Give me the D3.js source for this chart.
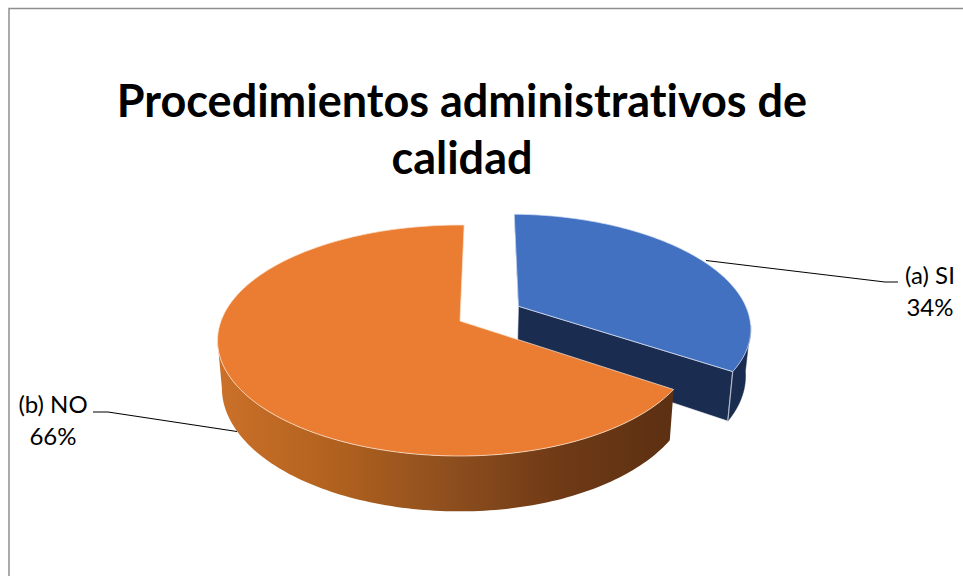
<!DOCTYPE html>
<html lang="es">
<head>
<meta charset="utf-8">
<script src="https://cdn.jsdelivr.net/npm/d3@7"></script>
<style>
  html, body { margin: 0; padding: 0; background: #fff; }
  svg { display: block; }
  text { font-family: Lato, "Open Sans", sans-serif; fill: #000; font-variant-ligatures: none; }
</style>
</head>
<body>
<script>
// Chart content
const titleLines = ["Procedimientos administrativos de", "calidad"];
const categories = ["(a) SI", "(b) NO"];
const shares = [34, 66];

// Tilted disc: perspective strength, rotation and slice separation
const W = 963, H = 576;
const perspective = 0.169;
const rotation = 1.2 * Math.PI / 180;
const explode = [0.29, 0];
const depth = 46;
const baseShrink = 0.018;

const xScale = d3.scaleLinear().domain([-1, 0, 1]).range([460 - 239, 460, 460 + 232.5]);
const yScale = d3.scaleLinear().domain([-1, 1]).range([321 - 112.2, 321 + 112.2]);

// Maps a disc point (X to the right, Y toward the viewer) at height z (0 top, 1 base) to the page
function project(X, Y, z) {
  const s = 1 / (1 - perspective * Y);
  const px = xScale(0) + (xScale(X) - xScale(0)) * s * (1 - baseShrink * z);
  const py = yScale(0) + (yScale(Y) - yScale(0)) * s + depth * z * s;
  return [px, py];
}

const pieLayout = d3.pie().sort(null).startAngle(rotation).endAngle(rotation + 2 * Math.PI);
const slices = pieLayout(shares).map((d, i) => {
  const mid = (d.startAngle + d.endAngle) / 2;
  return { ...d, ox: Math.sin(mid) * explode[i], oy: -Math.cos(mid) * explode[i] };
});

const rimPoint = (sl, a, z) => project(sl.ox + Math.sin(a), sl.oy - Math.cos(a), z);
const apexPoint = (sl, z) => project(sl.ox, sl.oy, z);
const rim = (sl, a0, a1, z) => d3.range(0, 121).map(k => rimPoint(sl, a0 + (a1 - a0) * k / 120, z));
const path = d3.line();

// Rim angles where the disc outline is widest; the side walls start from there
const silhouetteRight = Math.PI / 2 + 0.17;
const silhouetteLeft = 3 * Math.PI / 2 - 0.17;

const svg = d3.select("body").append("svg").attr("width", W).attr("height", H);
const defs = svg.append("defs");

const grad = defs.append("linearGradient").attr("id", "orangeWall")
  .attr("gradientUnits", "userSpaceOnUse")
  .attr("x1", 218).attr("x2", 673).attr("y1", 0).attr("y2", 0);
[[0, "#cb7029"], [0.25, "#b2621f"], [0.5, "#8f4f1e"], [0.75, "#6f3a16"], [1, "#5c3012"]]
  .forEach(([o, c]) => grad.append("stop").attr("offset", o).attr("stop-color", c));

// Chart frame, running off the right and bottom of the page
svg.append("path")
  .attr("d", path([[9, H], [9, 8.5], [W, 8.5]]))
  .attr("fill", "none").attr("stroke", "#8e8e8e").attr("stroke-width", 1.5);

// Title
svg.append("g").selectAll("text").data(titleLines).join("text")
  .attr("x", 462).attr("y", (d, i) => 117 + i * 57)
  .attr("text-anchor", "middle")
  .attr("font-size", 45).attr("font-weight", 700)
  .text(d => d);

const edge = "rgba(235,235,245,0.65)";

// Blue slice: walls, then top face
const si = slices[0];
const a1 = si.endAngle;
svg.append("path")
  .attr("d", path([apexPoint(si, 0), rimPoint(si, si.startAngle, 0), rimPoint(si, si.startAngle, 0.05), apexPoint(si, 0.05)]) + "Z")
  .attr("fill", "#1a2c50");
svg.append("path")
  .attr("d", path([apexPoint(si, 0), rimPoint(si, a1, 0), rimPoint(si, a1, 1), apexPoint(si, 1)]) + "Z")
  .attr("fill", "#1a2c50").attr("stroke", edge).attr("stroke-width", 1);
svg.append("path")
  .attr("d", path([...rim(si, silhouetteRight, a1, 0), ...rim(si, silhouetteRight, a1, 1).reverse()]) + "Z")
  .attr("fill", "#1a2c50").attr("stroke", "#1a2c50").attr("stroke-width", 0.5);
svg.append("path")
  .attr("d", path([rimPoint(si, a1, 0), rimPoint(si, a1, 1)]))
  .attr("stroke", edge).attr("stroke-width", 1.2);
svg.append("path")
  .attr("d", path([apexPoint(si, 0), ...rim(si, si.startAngle, a1, 0)]) + "Z")
  .attr("fill", "#4271c2").attr("stroke", "rgba(215,225,245,0.7)").attr("stroke-width", 1);

// Orange slice: curved wall, then top face
const no = slices[1];
svg.append("path")
  .attr("d", path([...rim(no, no.startAngle, silhouetteLeft, 0), ...rim(no, no.startAngle, silhouetteLeft, 1).reverse()]) + "Z")
  .attr("fill", "url(#orangeWall)");
svg.append("path")
  .attr("d", path([apexPoint(no, 0), ...rim(no, no.startAngle, no.endAngle, 0)]) + "Z")
  .attr("fill", "#eb7d32").attr("stroke", "rgba(250,225,205,0.75)").attr("stroke-width", 1);

// Leader lines
const leaders = [
  [[706, 260.5], [885, 282], [898, 282]],
  [[237, 431.5], [108, 412], [93, 412]]
];
svg.append("g").selectAll("path").data(leaders).join("path")
  .attr("d", d => path(d))
  .attr("fill", "none").attr("stroke", "#000").attr("stroke-width", 1.1);

// Category and percentage labels
const total = d3.sum(shares);
const labelPos = [{ x: 930, y: 284 }, { x: 53, y: 413 }];
const labels = svg.append("g").selectAll("g").data(categories).join("g")
  .attr("text-anchor", "middle").attr("font-size", 24);
labels.append("text").attr("x", (d, i) => labelPos[i].x).attr("y", (d, i) => labelPos[i].y).text(d => d);
labels.append("text").attr("x", (d, i) => labelPos[i].x).attr("y", (d, i) => labelPos[i].y + 32)
  .text((d, i) => d3.format(".0%")(shares[i] / total));
</script>
</body>
</html>
